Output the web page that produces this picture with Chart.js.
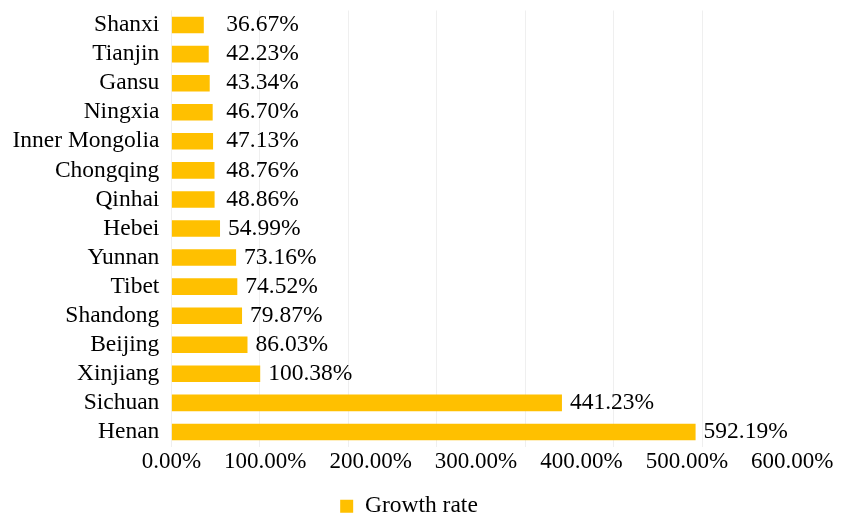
<!DOCTYPE html>
<html>
<head>
<meta charset="utf-8">
<script src="https://cdn.jsdelivr.net/npm/chart.js@4/dist/chart.umd.min.js"></script>
<style>
  html, body { margin: 0; padding: 0; background: #fff; }
  #wrap { width: 843px; height: 514px; position: relative; }
</style>
</head>
<body>
<div id="wrap"><canvas id="growthChart"></canvas></div>
<script>
const provinces = ["Shanxi", "Tianjin", "Gansu", "Ningxia", "Inner Mongolia", "Chongqing", "Qinhai",
  "Hebei", "Yunnan", "Tibet", "Shandong", "Beijing", "Xinjiang", "Sichuan", "Henan"];
const growthRate = [36.67, 42.23, 43.34, 46.70, 47.13, 48.76, 48.86,
  54.99, 73.16, 74.52, 79.87, 86.03, 100.38, 441.23, 592.19];
const xTickValues = [0, 100, 200, 300, 400, 500, 600];
const xTickLabels = ["0.00%", "100.00%", "200.00%", "300.00%", "400.00%", "500.00%", "600.00%"];
const seriesName = "Growth rate";

const FONT_FAMILY = '"Liberation Serif", "Times New Roman", serif';
const FONT_SIZE = 23.5;
const TICK_FONT_SIZE = 23;
const BAR_COLOR = "#FFC000";

// etiquetas de valor al final de cada barra
const valueLabels = {
  id: "valueLabels",
  afterDatasetsDraw(chart) {
    const ctx = chart.ctx;
    const meta = chart.getDatasetMeta(0);
    const x0 = chart.scales.x.getPixelForValue(0);
    ctx.save();
    ctx.font = FONT_SIZE + "px " + FONT_FAMILY;
    ctx.fillStyle = "#000";
    ctx.textAlign = "left";
    ctx.textBaseline = "middle";
    meta.data.forEach((bar, i) => {
      const x = Math.max(bar.x + 8, x0 + 55);
      ctx.fillText(growthRate[i].toFixed(2) + "%", x, bar.y);
    });
    ctx.restore();
  }
};

// etiquetas del eje X en una sola línea, separadas por espacios
const xAxisText = {
  id: "xAxisText",
  afterDraw(chart) {
    const ctx = chart.ctx;
    const xs = chart.scales.x;
    ctx.save();
    ctx.font = TICK_FONT_SIZE + "px " + FONT_FAMILY;
    ctx.fillStyle = "#000";
    ctx.textAlign = "left";
    ctx.textBaseline = "alphabetic";
    const firstW = ctx.measureText(xTickLabels[0]).width;
    ctx.fillText(xTickLabels.join("    "), xs.getPixelForValue(xTickValues[0]) - firstW / 2, xs.top + 21.5);
    ctx.restore();
  }
};

// la leyenda queda centrada algo a la izquierda del área del gráfico
const legendShift = {
  id: "legendShift",
  afterLayout(chart) {
    const lg = chart.legend;
    const d = 409 - (lg.left + lg.right) / 2;
    lg.left += d;
    lg.right += d;
  }
};

new Chart(document.getElementById("growthChart"), {
  type: "bar",
  data: {
    labels: provinces,
    datasets: [{
      label: seriesName,
      data: growthRate,
      backgroundColor: BAR_COLOR,
      borderWidth: 0,
      barPercentage: 0.57,
      categoryPercentage: 1
    }]
  },
  options: {
    indexAxis: "y",
    responsive: true,
    maintainAspectRatio: false,
    animation: false,
    layout: { padding: { top: 10.5, left: 0.5, right: 140.5, bottom: -14 } },
    scales: {
      x: {
        min: xTickValues[0],
        max: xTickValues[xTickValues.length - 1],
        ticks: { stepSize: 100, display: false },
        grid: { color: "#efefef", drawTicks: false },
        border: { display: false },
        afterFit(scale) {
          scale.height = 47;
          scale.paddingLeft = 0;
          scale.paddingRight = 0;
        }
      },
      y: {
        ticks: { color: "#000", padding: 12, autoSkip: false, font: { family: FONT_FAMILY, size: FONT_SIZE } },
        grid: { display: false, drawTicks: false },
        border: { display: false },
        afterFit(scale) {
          scale.paddingTop = 0;
          scale.paddingBottom = 0;
        }
      }
    },
    plugins: {
      legend: {
        position: "bottom",
        fullSize: false,
        labels: {
          boxWidth: 13,
          boxHeight: 13,
          padding: 1,
          color: "#000",
          font: { family: FONT_FAMILY, size: FONT_SIZE }
        }
      },
      tooltip: { enabled: false }
    }
  },
  plugins: [valueLabels, xAxisText, legendShift]
});
</script>
</body>
</html>
